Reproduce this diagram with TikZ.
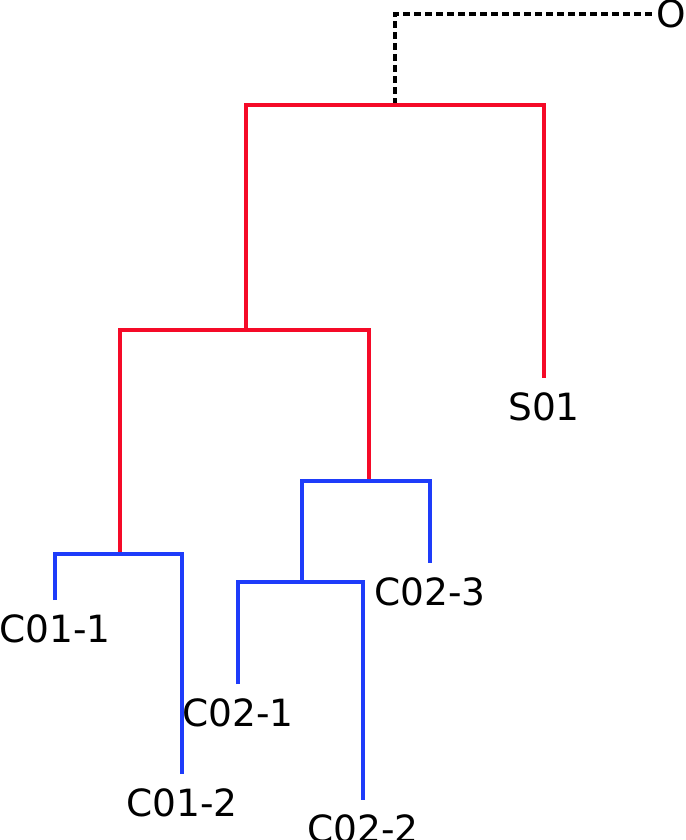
\documentclass[tikz,border=0pt]{standalone}
\usepackage{fontspec}
\setmainfont{DejaVu Sans}
\usetikzlibrary{positioning, calc}
\definecolor{cladered}{RGB}{245,10,40}
\definecolor{cladeblue}{RGB}{30,60,250}
\tikzset{
    leaf/.style = {font=\fontsize{37.5}{42}\selectfont, inner xsep=0pt, inner ysep=14pt, anchor=north},
    outleaf/.style = {font=\fontsize{37.5}{42}\selectfont, inner sep=3pt, anchor=west},
    redlink/.style = {draw=cladered, line width=3.4pt},
    bluelink/.style = {draw=cladeblue, line width=3.4pt},
    outlink/.style = {draw=black, line width=3.2pt, dash pattern=on 7pt off 4pt}
}
\begin{document}
\begin{tikzpicture}[x=1pt, y=-1pt]
\useasboundingbox (0,0) rectangle (685,840);

% inner nodes of the tree
\coordinate (root) at (395,105);
\coordinate (n1) at (246,330);
\coordinate (n2) at (120,554);
\coordinate (n3) at (369,481);
\coordinate (n4) at (302,582);

% leaves
\node (o) [outleaf] at (653,14) {O};
\node (s01) [leaf] at (544,378) {S01};
\node (c011) [leaf] at (55,600) {C01-1};
\node (c012) [leaf] at (182,774) {C01-2};
\node (c021) [leaf] at (238,684) {C02-1};
\node (c022) [leaf] at (363,800) {C02-2};
\node (c023) [leaf] at (430,563) {C02-3};

% branches
\draw [outlink] (root) |- (o.west);
\draw [redlink] (n1) |- (root) -| (s01.north);
\draw [redlink] (n2) |- (n1) -| (n3);
\draw [bluelink] (c011.north) |- (n2) -| (c012.north);
\draw [bluelink] (n4) |- (n3) -| (c023.north);
\draw [bluelink] (c021.north) |- (n4) -| (c022.north);
\end{tikzpicture}
\end{document}
